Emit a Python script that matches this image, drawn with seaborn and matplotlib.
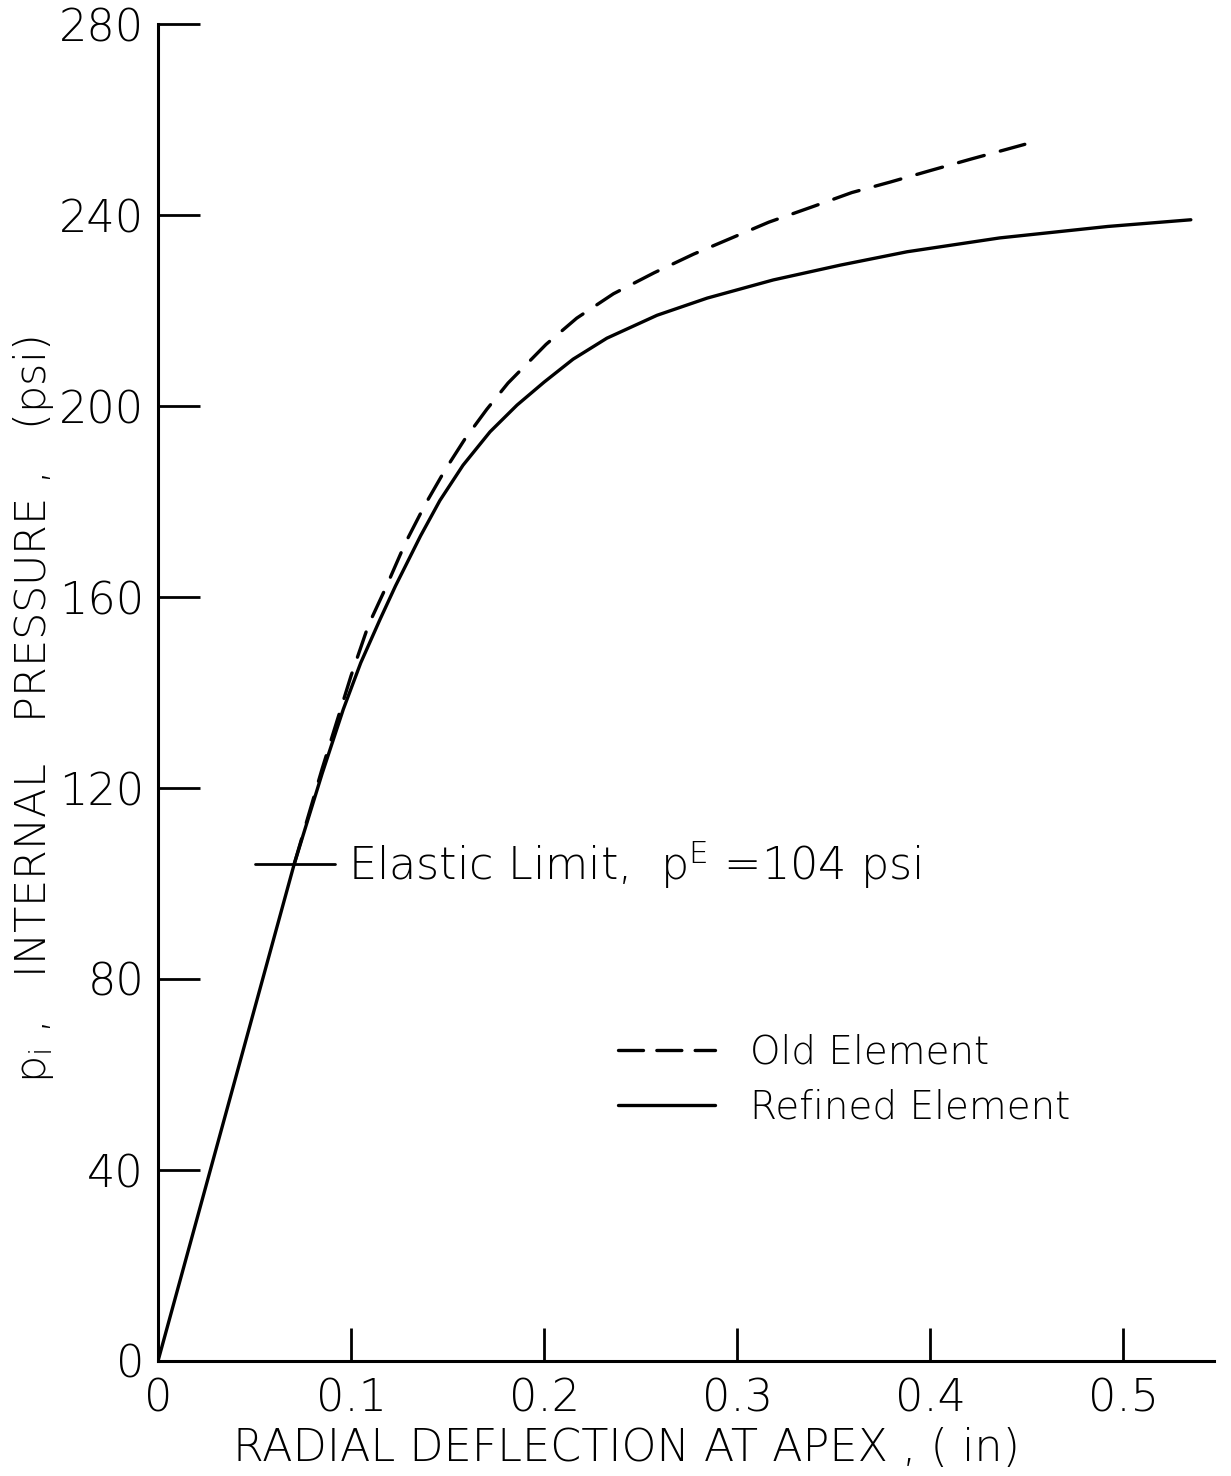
import matplotlib
matplotlib.use("Agg")
import matplotlib.pyplot as plt
import seaborn as sns
import pandas as pd
from matplotlib.lines import Line2D

# ---- data ----
refined_x = [0.0, 0.0705, 0.085, 0.096, 0.105, 0.115, 0.123, 0.136, 0.146, 0.158,
             0.172, 0.186, 0.200, 0.215, 0.2325, 0.2585, 0.2845, 0.3187, 0.3534,
             0.388, 0.436, 0.492, 0.535]
refined_y = [0.0, 104.0, 123.0, 136.5, 146.2, 155.3, 162.3, 172.8, 180.2, 187.6,
             194.6, 200.2, 205.0, 209.8, 214.2, 219.0, 222.6, 226.4, 229.5,
             232.3, 235.2, 237.6, 239.0]

old_x = [0.0705, 0.085, 0.100, 0.109, 0.1185, 0.128, 0.1383, 0.1487, 0.159, 0.1703,
         0.1813, 0.201, 0.2169, 0.2359, 0.257, 0.2774, 0.2972, 0.3164, 0.3402,
         0.3594, 0.3793, 0.400, 0.421, 0.440, 0.449]
old_y = [104.0, 124.0, 143.5, 154.1, 162.4, 171.2, 179.3, 186.6, 193.1, 199.3,
         204.8, 212.9, 218.4, 223.5, 227.9, 231.8, 235.2, 238.5, 241.9,
         244.7, 246.9, 249.3, 251.7, 253.8, 254.8]

elastic_limit = 104.0
elastic_marker_x = [0.0503, 0.0917]

x_ticks = [0, 0.1, 0.2, 0.3, 0.4, 0.5]
x_tick_labels = ["0", "0.1", "0.2", "0.3", "0.4", "0.5"]
y_ticks = [0, 40, 80, 120, 160, 200, 240, 280]
y_tick_labels = ["0", "40", "80", "120", "160", "200", "240", "280"]

series_labels = ["Old Element", "Refined Element"]

# ---- style ----
sns.set_theme(style="white")
plt.rcParams["font.family"] = ["DejaVu Sans"]
plt.rcParams["font.weight"] = "light"
plt.rcParams["axes.labelweight"] = "light"
plt.rcParams["text.color"] = "black"
plt.rcParams["axes.labelcolor"] = "black"
plt.rcParams["mathtext.default"] = "regular"

fig = plt.figure(figsize=(12.31, 14.76), dpi=100)
ax = fig.add_axes([158 / 1231, 115 / 1476, (1214 - 158) / 1231, (1361 - 24) / 1476])

df_ref = pd.DataFrame({"x": refined_x, "y": refined_y})
df_old = pd.DataFrame({"x": old_x, "y": old_y})

sns.lineplot(data=df_ref, x="x", y="y", ax=ax, color="black", lw=2.4,
             sort=False, estimator=None)
sns.lineplot(data=df_old, x="x", y="y", ax=ax, color="black", lw=2.4,
             sort=False, estimator=None)
old_line = ax.lines[-1]
old_line.set_dashes([8, 5])
old_line.set_dash_capstyle("round")
for ln in ax.lines:
    ln.set_solid_joinstyle("round")
    ln.set_solid_capstyle("round")

# elastic limit marker
sns.lineplot(x=elastic_marker_x, y=[elastic_limit, elastic_limit], ax=ax,
             color="black", lw=2.0, estimator=None)
ax.text(0.0984, elastic_limit, "Elastic Limit,  p$^{E}$ =104 psi",
        fontsize=32, va="center", ha="left", fontweight="light", color="black")

ax.set_xlim(0, 0.547)
ax.set_ylim(0, 280)
ax.set_xticks(x_ticks)
ax.set_xticklabels(x_tick_labels)
ax.set_yticks(y_ticks)
ax.set_yticklabels(y_tick_labels)

for s in ["top", "right"]:
    ax.spines[s].set_visible(False)
for s in ["left", "bottom"]:
    ax.spines[s].set_color("black")
    ax.spines[s].set_linewidth(2.2)

ax.tick_params(axis="y", direction="in", length=30, width=2.0, pad=10,
               labelsize=32, colors="black", left=True)
ax.tick_params(axis="x", direction="in", length=24, width=2.0, pad=12,
               labelsize=32, colors="black", bottom=True)

ax.set_xlabel("RADIAL DEFLECTION AT APEX , ( in)", fontsize=32)
ax.xaxis.set_label_coords(0.444, -0.049)
ax.set_ylabel("p$_i$ ,   INTERNAL   PRESSURE ,   (psi)", fontsize=31)
ax.yaxis.set_label_coords(-0.097, 0.487)

handles = [Line2D([], [], color="black", lw=2.4, dashes=[7.5, 4], dash_capstyle="round"),
           Line2D([], [], color="black", lw=2.4)]
leg = ax.legend(handles, series_labels, loc="center left",
                bbox_to_anchor=(0.4356, 0.210), frameon=False, fontsize=28,
                handlelength=2.5, handletextpad=0.9, labelspacing=0.45,
                borderpad=0, borderaxespad=0)

ax.grid(False)
fig.savefig("out.png", dpi=100)
